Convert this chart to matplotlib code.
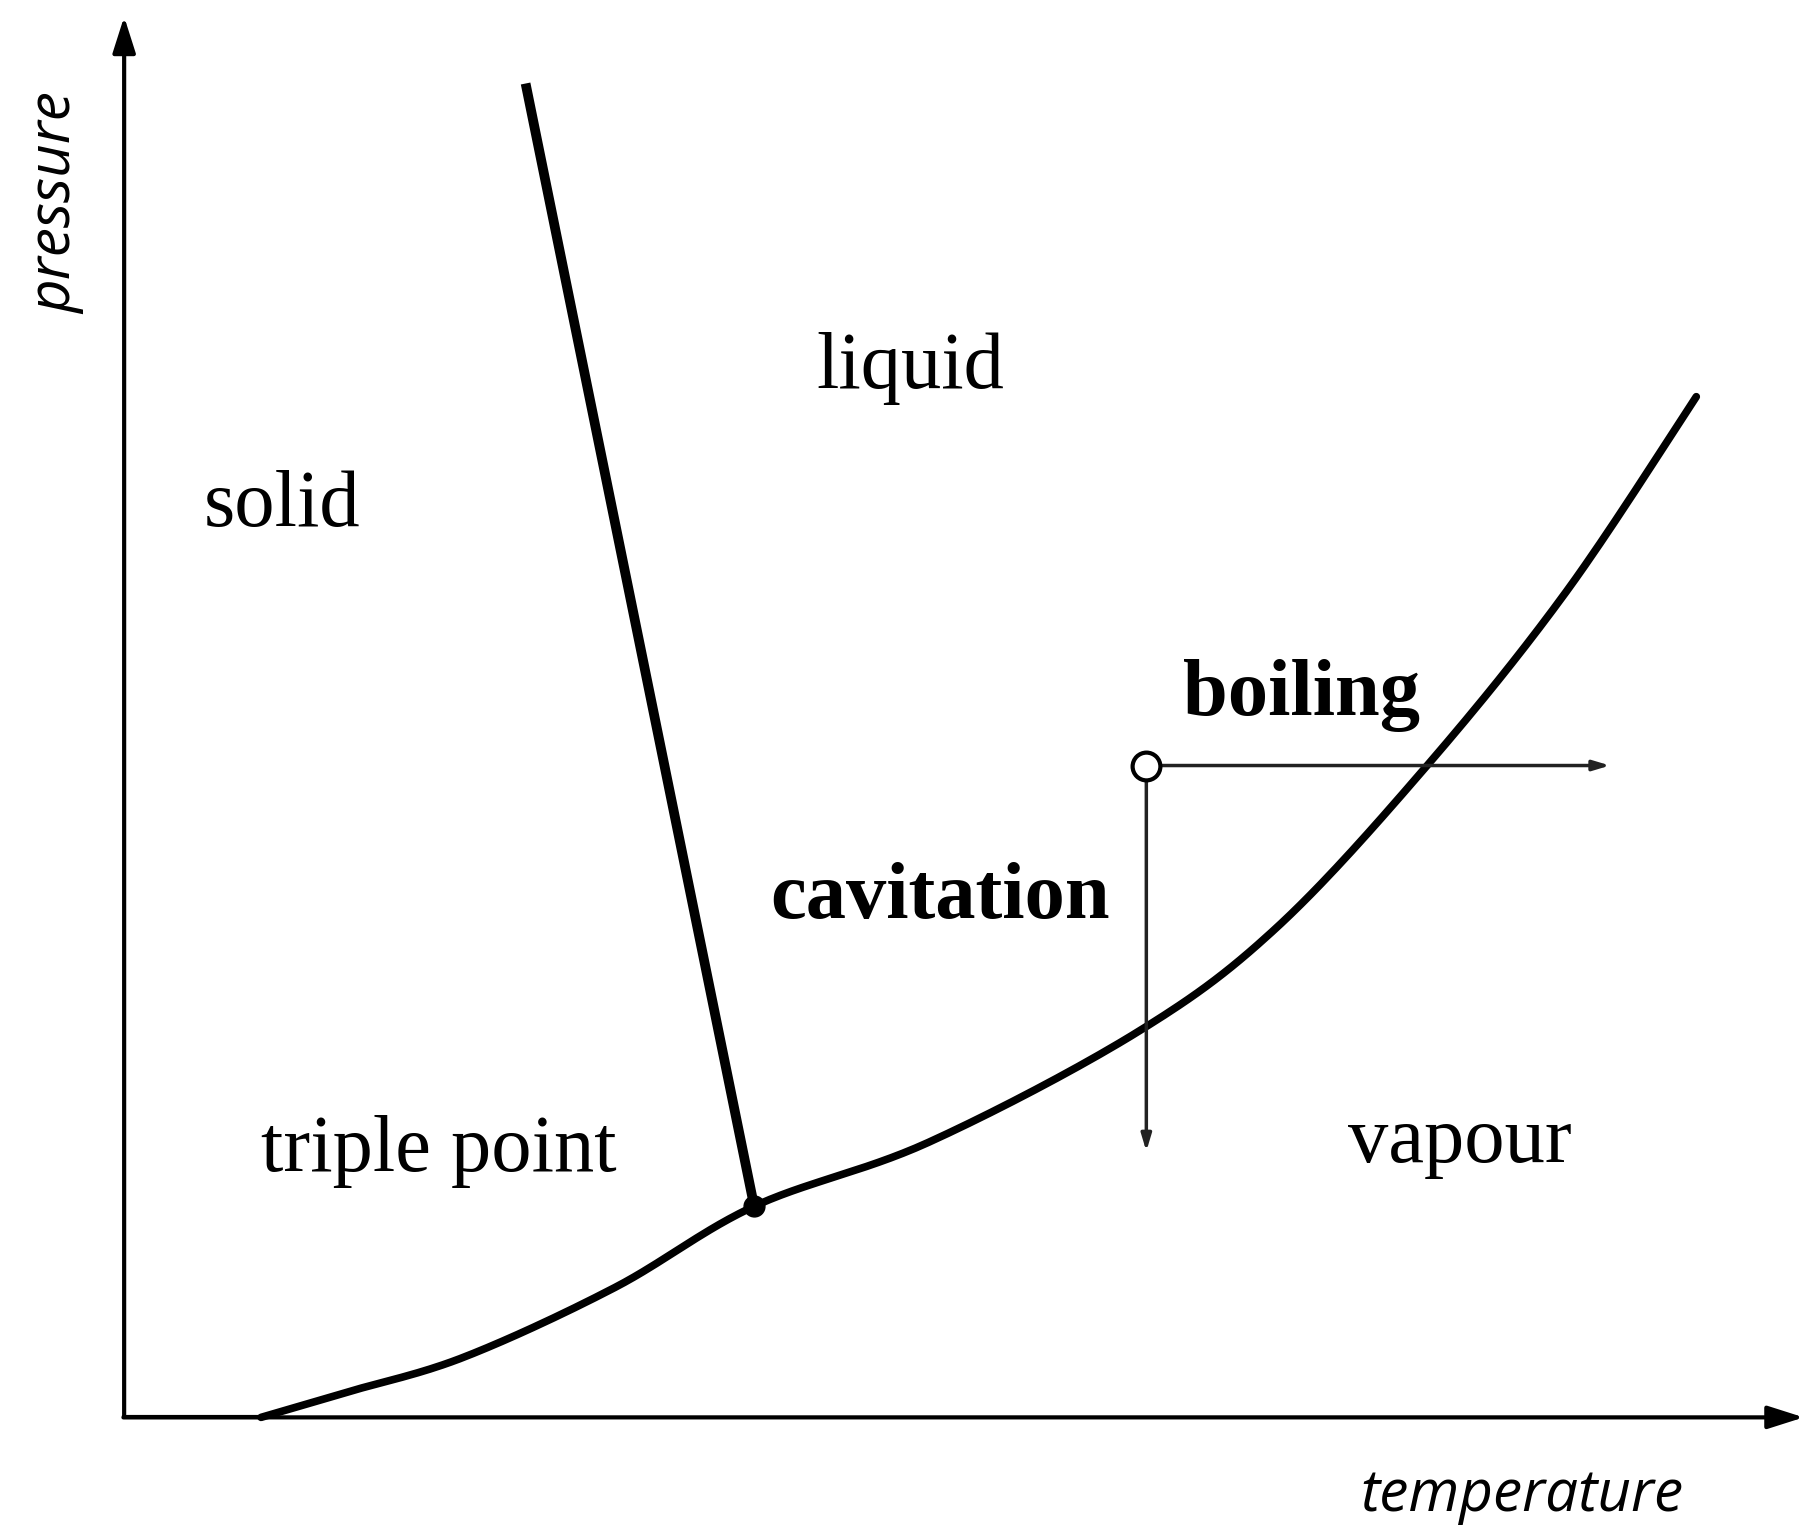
import matplotlib.pyplot as plt
import numpy as np

# coordinates in units of the drawing (0..1560 wide, 0..1326 tall, y downward)
melt_x = [453, 650]
melt_y = [72, 1040]

vap_x = [225, 300, 400, 530, 650, 800, 980, 1100, 1230, 1350, 1462]
vap_y = [1222, 1200, 1170, 1110, 1040, 985, 890, 800, 660, 510, 342]

triple = (650, 1040)
start = (988, 660)
boil_end = 1390
cav_end = 995

labels = [
    ("liquid", 785, 318, "normal"),
    ("solid", 243, 437, "normal"),
    ("triple point", 378, 993, "normal"),
    ("vapour", 1258, 985, "normal"),
    ("cavitation", 810, 775, "bold"),
    ("boiling", 1122, 600, "bold"),
]


def smooth(px, py, n=30):
    # Catmull-Rom through the read points, only to draw a smooth stroke
    p = np.column_stack([px, py]).astype(float)
    p = np.vstack([p[0], p, p[-1]])
    out = []
    for i in range(1, len(p) - 2):
        p0, p1, p2, p3 = p[i - 1], p[i], p[i + 1], p[i + 2]
        for t in np.linspace(0, 1, n, endpoint=False):
            out.append(0.5 * (2 * p1 + (-p0 + p2) * t
                              + (2 * p0 - 5 * p1 + 4 * p2 - p3) * t ** 2
                              + (-p0 + 3 * p1 - 3 * p2 + p3) * t ** 3))
    out.append(p[-2])
    out = np.array(out)
    return out[:, 0], out[:, 1]


fig = plt.figure(figsize=(18.1, 15.38), dpi=100)
ax = fig.add_axes([0, 0, 1, 1])
ax.set_xlim(0, 1560)
ax.set_ylim(1326, 0)
ax.axis("off")

# axes arrows
ax.annotate("", xy=(107, 12), xytext=(107, 1222),
            arrowprops=dict(arrowstyle="-|>,head_length=2.2,head_width=0.7", lw=3, color="black"))
ax.annotate("", xy=(1557, 1222), xytext=(104, 1222),
            arrowprops=dict(arrowstyle="-|>,head_length=2.2,head_width=0.7", lw=3, color="black"))
ax.plot([107, 225], [1222, 1222], color="black", lw=3)

# phase boundaries
ax.plot(melt_x, melt_y, color="black", lw=7, solid_capstyle="butt")
sx, sy = smooth(vap_x, vap_y)
ax.plot(sx, sy, color="black", lw=5.5, solid_capstyle="round")
ax.plot(*triple, "o", color="black", ms=15)

# boiling / cavitation arrows
ax.annotate("", xy=(boil_end, start[1]), xytext=start,
            arrowprops=dict(arrowstyle="-|>,head_length=1.0,head_width=0.3", lw=2.5, color="#222222"))
ax.annotate("", xy=(start[0], cav_end), xytext=start,
            arrowprops=dict(arrowstyle="-|>,head_length=1.0,head_width=0.3", lw=2.5, color="#222222"))
ax.plot(*start, "o", mfc="white", mec="black", mew=3, ms=20, zorder=5)

for text, x, y, w in labels:
    ax.text(x, y, text, fontsize=58, family="Liberation Serif", weight=w,
            ha="center", va="center")

ax.text(48, 175, "pressure", fontsize=42, family="Open Sans", style="italic",
        rotation=90, ha="center", va="center")
ax.text(1312, 1290, "temperature", fontsize=42, family="Open Sans", style="italic",
        ha="center", va="center")

fig.savefig("out.png", dpi=100)
